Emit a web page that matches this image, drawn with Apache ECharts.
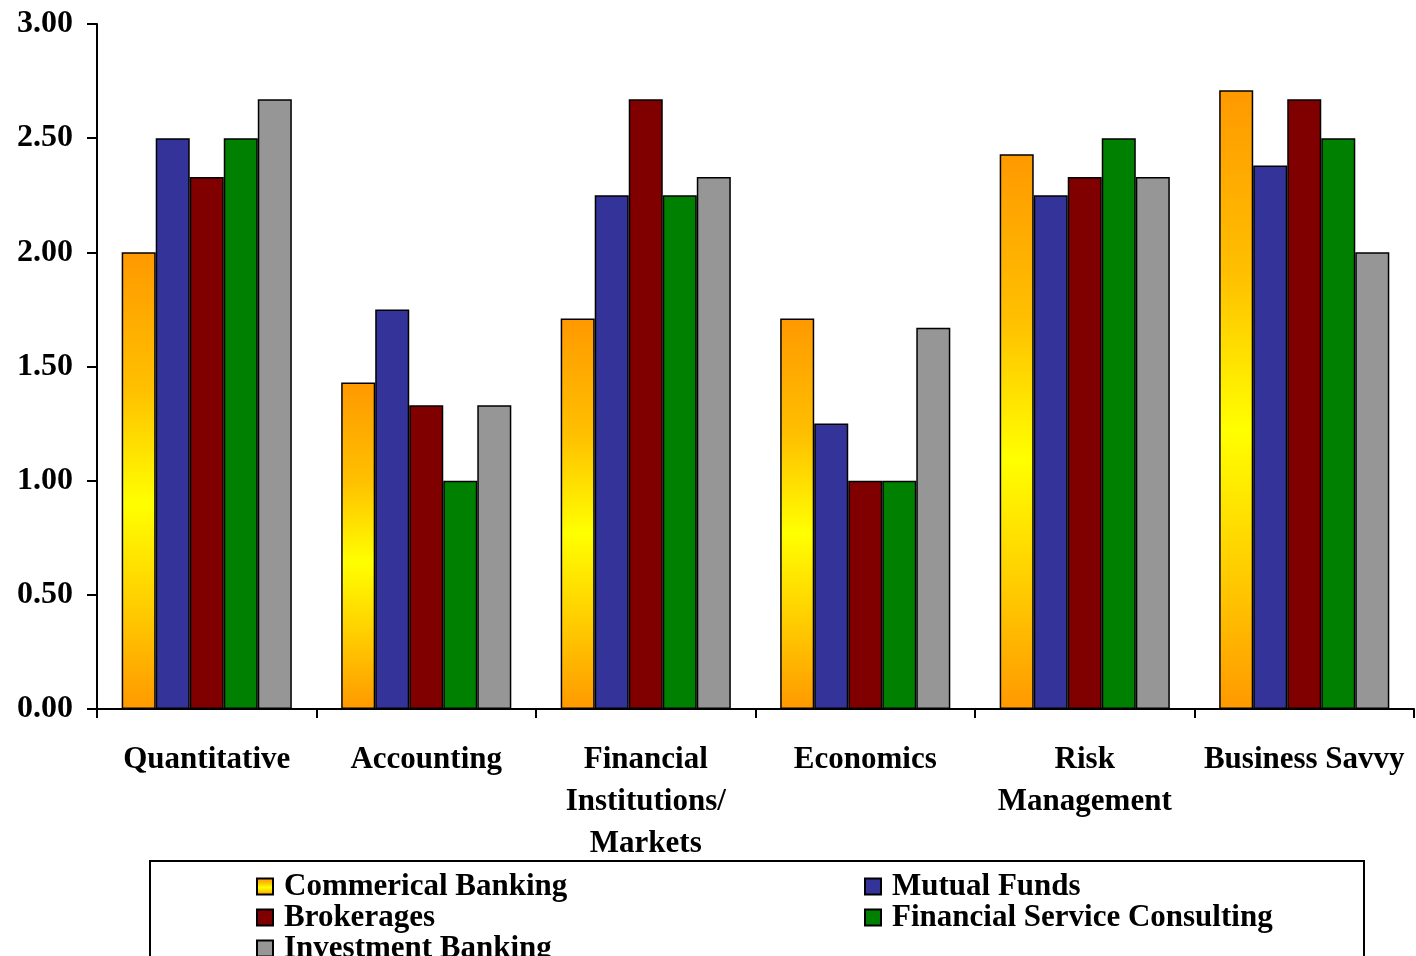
<!DOCTYPE html>
<html>
<head>
<meta charset="utf-8">
<script src="https://cdn.jsdelivr.net/npm/echarts@6/dist/echarts.min.js"></script>
<style>
  html, body { margin: 0; padding: 0; background: #ffffff; }
  #chart { width: 1416px; height: 956px; }
</style>
</head>
<body>
<div id="chart"></div>
<script>
// Skill areas (x-axis categories)
const categories = ['Quantitative', 'Accounting', 'Financial\nInstitutions/\nMarkets', 'Economics', 'Risk\nManagement', 'Business Savvy'];

// Average importance rating per sector
const commercialBanking = [2.00, 1.43, 1.71, 1.71, 2.43, 2.71];
const mutualFunds       = [2.50, 1.75, 2.25, 1.25, 2.25, 2.38];
const brokerages        = [2.33, 1.33, 2.67, 1.00, 2.33, 2.67];
const finServConsulting = [2.50, 1.00, 2.25, 1.00, 2.50, 2.50];
const investmentBanking = [2.67, 1.33, 2.33, 1.67, 2.33, 2.00];

const seriesNames = ['Commerical Banking', 'Mutual Funds', 'Brokerages', 'Financial Service Consulting', 'Investment Banking'];

const FONT = '"Liberation Serif", "Times New Roman", serif';

const orangeFill = {
  type: 'linear', x: 0, y: 0, x2: 0, y2: 1,
  colorStops: [
    { offset: 0, color: '#FF9900' },
    { offset: 0.3, color: '#FFC000' },
    { offset: 0.55, color: '#FFFF00' },
    { offset: 0.78, color: '#FFCC00' },
    { offset: 1, color: '#FF9900' }
  ]
};

const fills = [orangeFill, '#333399', '#800000', '#008000', '#969696'];
const values = [commercialBanking, mutualFunds, brokerages, finServConsulting, investmentBanking];

const series = seriesNames.map((name, i) => ({
  name: name,
  type: 'bar',
  data: values[i],
  barGap: '0%',
  barCategoryGap: '22.5%',
  itemStyle: { color: fills[i], borderColor: '#000000', borderWidth: 1.5 },
  emphasis: { disabled: true }
}));

const legendText = {
  fontFamily: FONT, fontWeight: 'bold', fontSize: 31, color: '#000000',
  lineHeight: 30, padding: [0, 0, 0, 6]
};

const chart = echarts.init(document.getElementById('chart'), null, { renderer: 'canvas' });
chart.setOption({
  animation: false,
  backgroundColor: '#ffffff',
  grid: { left: 97, right: 2, top: 24, bottom: 247, containLabel: false },
  xAxis: {
    type: 'category',
    data: categories,
    axisLine: { lineStyle: { color: '#000000', width: 2 } },
    axisTick: { show: true, length: 9, lineStyle: { color: '#000000', width: 2 } },
    axisLabel: {
      interval: 0, margin: 30, color: '#000000',
      fontFamily: FONT, fontWeight: 'bold', fontSize: 31, lineHeight: 42
    }
  },
  yAxis: {
    type: 'value',
    min: 0, max: 3, interval: 0.5,
    axisLine: { show: true, lineStyle: { color: '#000000', width: 2 } },
    axisTick: { show: true, length: 10, lineStyle: { color: '#000000', width: 2 } },
    splitLine: { show: false },
    axisLabel: {
      margin: 24, color: '#000000',
      fontFamily: FONT, fontWeight: 'bold', fontSize: 32,
      formatter: v => v.toFixed(2)
    }
  },
  legend: [
    {
      orient: 'vertical', left: 256, top: 871, height: 200, padding: 0, itemGap: 0,
      itemWidth: 16, itemHeight: 16, icon: 'rect',
      selectedMode: false,
      data: ['Commerical Banking', 'Brokerages', 'Investment Banking'],
      textStyle: legendText
    },
    {
      orient: 'vertical', left: 864, top: 871, height: 200, padding: 0, itemGap: 0,
      itemWidth: 16, itemHeight: 16, icon: 'rect',
      selectedMode: false,
      data: ['Mutual Funds', 'Financial Service Consulting'],
      textStyle: legendText
    }
  ],
  graphic: [
    {
      type: 'rect', z: -1, silent: true,
      shape: { x: 150, y: 861, width: 1214, height: 130 },
      style: { fill: '#ffffff', stroke: '#000000', lineWidth: 2 }
    }
  ],
  series: series
});
</script>
</body>
</html>
